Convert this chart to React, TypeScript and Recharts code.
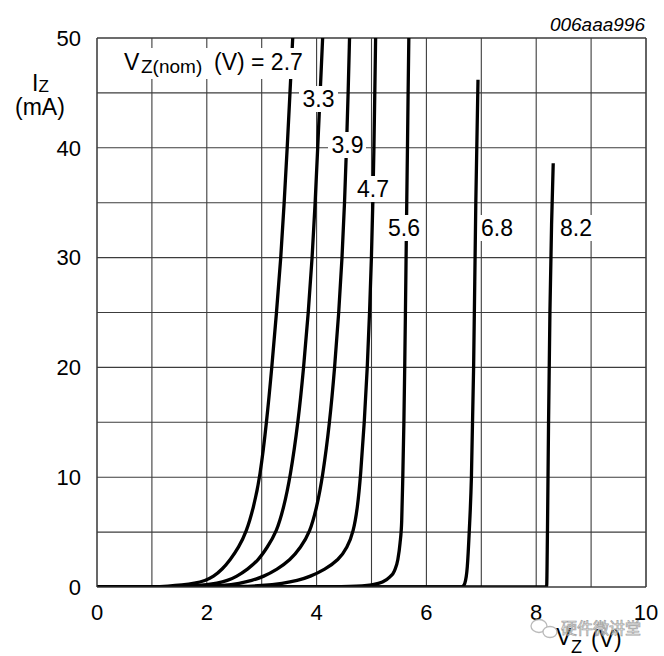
import React from 'react';
import { LineChart, Line, XAxis, YAxis, CartesianGrid, ReferenceLine } from 'recharts';

// Zener curves: V_Z (V) and I_Z (mA)
const vz27 = [0, 0.6, 1.0, 1.3, 1.55, 1.78, 1.97, 2.12, 2.28, 2.43, 2.58, 2.72, 2.85, 2.97, 3.09, 3.185, 3.27, 3.35, 3.41, 3.465, 3.515, 3.565];
const iz27 = [0, 0, 0.02, 0.08, 0.18, 0.33, 0.58, 0.94, 1.6, 2.5, 3.6, 5, 7.2, 10, 15, 20, 25, 30, 35, 40, 45, 50];

const vz33 = [0, 1.0, 1.4, 1.8, 2.0, 2.18, 2.38, 2.54, 2.74, 2.94, 3.1, 3.27, 3.4, 3.52, 3.665, 3.765, 3.85, 3.92, 3.975, 4.02, 4.065, 4.11];
const iz33 = [0, 0, 0.03, 0.12, 0.2, 0.33, 0.58, 0.94, 1.6, 2.45, 3.6, 5, 7.2, 10, 15, 20, 25, 30, 35, 40, 45, 50];

const vz39 = [0, 1.4, 1.9, 2.3, 2.6, 2.82, 3.03, 3.28, 3.52, 3.71, 3.88, 4.0, 4.11, 4.24, 4.33, 4.405, 4.465, 4.51, 4.545, 4.575, 4.6];
const iz39 = [0, 0, 0.03, 0.13, 0.33, 0.58, 0.94, 1.6, 2.45, 3.6, 5, 7.2, 10, 15, 20, 25, 30, 35, 40, 45, 50];

const vz47 = [0, 2.0, 2.6, 3.0, 3.39, 3.65, 3.88, 4.15, 4.4, 4.56, 4.67, 4.745, 4.8, 4.87, 4.925, 4.965, 5.0, 5.025, 5.045, 5.06, 5.075];
const iz47 = [0, 0, 0.04, 0.12, 0.33, 0.58, 0.94, 1.6, 2.45, 3.6, 5, 7.2, 10, 15, 20, 25, 30, 35, 40, 45, 50];

const vz56 = [0, 4.0, 4.6, 5.0, 5.2, 5.33, 5.42, 5.48, 5.52, 5.55, 5.57, 5.59, 5.605, 5.618, 5.63, 5.642, 5.655, 5.667, 5.68];
const iz56 = [0, 0, 0.05, 0.2, 0.45, 0.9, 1.5, 2.5, 4, 6, 10, 15, 20, 25, 30, 35, 40, 45, 50];

const vz68 = [0, 6.62, 6.66, 6.7, 6.745, 6.78, 6.82, 6.86, 6.9, 6.94];
const iz68 = [0, 0, 0.05, 0.35, 1.85, 5, 10, 20, 35, 46.2];

const vz82 = [0, 8.19, 8.205, 8.225, 8.25, 8.28, 8.31];
const iz82 = [0, 0, 5, 15, 25, 33, 38.6];

const xTicks = [0, 1, 2, 3, 4, 5, 6, 7, 8, 9, 10];
const yTicks = [0, 5, 10, 15, 20, 25, 30, 35, 40, 45, 50];

const zip = (v: number[], i: number[]) => v.map((x, k) => ({ v: x, i: i[k] }));

const series: { data: { v: number; i: number }[]; curve: 'basis' | 'monotone' }[] = [
  { data: zip(vz27, iz27), curve: 'basis' },
  { data: zip(vz33, iz33), curve: 'basis' },
  { data: zip(vz39, iz39), curve: 'basis' },
  { data: zip(vz47, iz47), curve: 'basis' },
  { data: zip(vz56, iz56), curve: 'monotone' },
  { data: zip(vz68, iz68), curve: 'monotone' },
  { data: zip(vz82, iz82), curve: 'monotone' },
];

const FONT = '"Liberation Sans", Arial, sans-serif';
const GRID = '#3c3c3c';

const curveLabels = [
  { t: '3.3', x: 302.5, y: 107, bx: 299, by: 86, bw: 39, bh: 26 },
  { t: '3.9', x: 331.5, y: 153, bx: 328, by: 132, bw: 38, bh: 26 },
  { t: '4.7', x: 357, y: 197, bx: 354, by: 176, bw: 37, bh: 26 },
  { t: '5.6', x: 388, y: 236, bx: 385, by: 215, bw: 38, bh: 26 },
  { t: '6.8', x: 481, y: 236, bx: 478, by: 215, bw: 38, bh: 26 },
  { t: '8.2', x: 560, y: 236, bx: 557, by: 215, bw: 38, bh: 26 },
];

export default function App() {
  return (
    <div style={{ position: 'absolute', left: 0, top: 0, width: 664, height: 656, background: '#fff' }}>
      <LineChart
        width={664}
        height={656}
        margin={{ top: 38, right: 18, bottom: 0, left: 0 }}
      >
        <CartesianGrid stroke={GRID} strokeWidth={1.1} />
        <XAxis
          dataKey="v"
          type="number"
          domain={[0, 10]}
          ticks={xTicks}
          interval={0}
          height={69}
          tickLine={false}
          tickMargin={11}
          axisLine={{ stroke: GRID }}
          tickFormatter={(t: number) => (t % 2 === 0 ? String(t) : '')}
          tick={{ fill: '#000', fontSize: 22, fontFamily: FONT }}
          allowDataOverflow
        />
        <YAxis
          type="number"
          domain={[0, 50]}
          ticks={yTicks}
          interval={0}
          width={97}
          tickLine={false}
          tickMargin={10}
          axisLine={{ stroke: GRID }}
          tickFormatter={(t: number) => (t % 10 === 0 ? String(t) : '')}
          tick={{ fill: '#000', fontSize: 22, fontFamily: FONT }}
          allowDataOverflow
        />
        <ReferenceLine x={10} stroke={GRID} strokeWidth={1.1} />
        <ReferenceLine y={50} stroke={GRID} strokeWidth={1.1} />
        {series.map((s, k) => (
          <Line
            key={k}
            data={s.data}
            dataKey="i"
            type={s.curve}
            stroke="#000"
            strokeWidth={3.3}
            dot={false}
            activeDot={false}
            isAnimationActive={false}
            strokeLinejoin="round"
          />
        ))}
      </LineChart>
      <svg
        width={664}
        height={656}
        style={{ position: 'absolute', left: 0, top: 0, pointerEvents: 'none' }}
        fontFamily={FONT}
      >
        <text x={645} y={31} textAnchor="end" fontStyle="italic" fontSize={19} fill="#000">
          006aaa996
        </text>
        {/* y axis label */}
        <text x={32} y={90.5} fontSize={23} fill="#000">I</text>
        <text x={38.5} y={92} fontSize={17} fill="#000">Z</text>
        <text x={15} y={115} fontSize={23} fill="#000">(mA)</text>
        {/* nominal label */}
        <rect x={118} y={48} width={192} height={31} fill="#fff" />
        <text x={124} y={70} fontSize={23} fill="#000">V</text>
        <text x={141} y={73} fontSize={19} fill="#000">Z(nom)</text>
        <text x={214} y={70} fontSize={23} fill="#000">(V) = 2.7</text>
        {curveLabels.map((l) => (
          <g key={l.t}>
            <rect x={l.bx} y={l.by} width={l.bw} height={l.bh} fill="#fff" />
            <text x={l.x} y={l.y} fontSize={23} fill="#000">{l.t}</text>
          </g>
        ))}
        {/* x axis label */}
        <text x={556} y={645} fontSize={23} fill="#000">V</text>
        <text x={571} y={653} fontSize={18} fill="#000">Z</text>
        <text x={591} y={647} fontSize={23} fill="#000">(V)</text>
        {/* watermark */}
        <g opacity={0.8}>
          <ellipse cx={539} cy={626} rx={8} ry={6.5} fill="none" stroke="#aaa" strokeWidth={1.3} />
          <ellipse cx={550} cy={632} rx={7} ry={5.5} fill="#fff" stroke="#aaa" strokeWidth={1.3} />
          <text
            x={561}
            y={634}
            fontSize={16}
            fill="#f4f4f4"
            stroke="#888"
            strokeWidth={0.7}
            fontFamily='"Noto Sans CJK SC", sans-serif'
          >
            硬件微讲堂
          </text>
        </g>
      </svg>
    </div>
  );
}
